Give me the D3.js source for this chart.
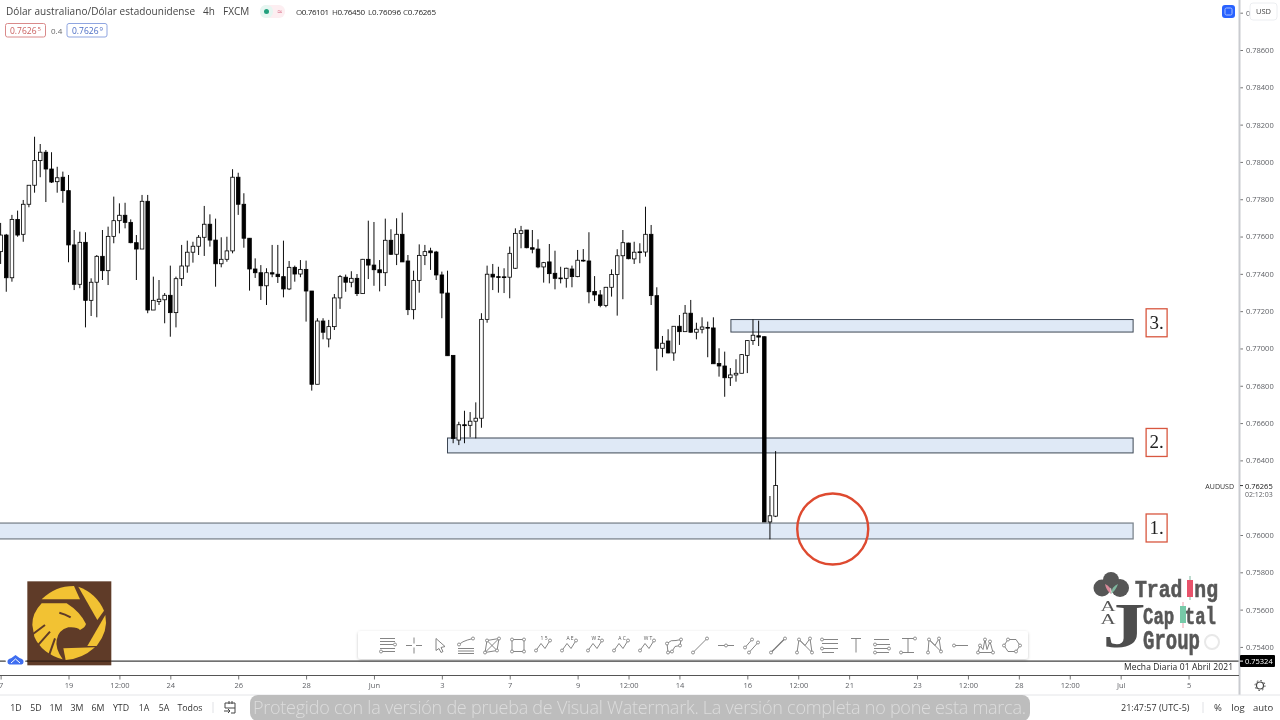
<!DOCTYPE html>
<html>
<head>
<meta charset="utf-8">
<script src="https://cdn.jsdelivr.net/npm/d3@7"></script>
<style>
  html, body { margin: 0; background: #fff; }
  /* the source is a soft video frame */
  svg { display: block; filter: blur(0.3px); }
  text { font-family: "Open Sans", sans-serif; }
</style>
</head>
<body>
<svg width="1280" height="720"></svg>
<script>
const opens = [
  0.77519,0.77608,0.77379,0.77692,0.77612,0.77773,0.77875,0.78007,0.78052,0.77962,0.77894,0.77918,
  0.77846,0.77555,0.77344,0.77569,0.77258,0.77355,0.77494,0.77417,0.77601,0.77685,0.77714,0.77676,
  0.77567,0.77533,0.77789,0.77206,0.77251,0.77261,0.77285,0.77192,0.77374,0.77442,0.77516,0.77548,
  0.77596,0.77666,0.77581,0.77454,0.77478,0.77523,0.77918,0.77773,0.77591,0.77426,0.77406,0.77336,
  0.77406,0.77398,0.77385,0.77319,0.77435,0.77399,0.77424,0.77308,0.76808,0.77147,0.77051,0.77117,
  0.77271,0.77382,0.77355,0.77376,0.77294,0.77478,0.77447,0.77422,0.77406,0.77580,0.77505,0.77612,
  0.77469,0.77208,0.77365,0.77499,0.77523,0.77517,0.77394,0.77297,0.76963,0.76509,0.76591,0.76588,
  0.76610,0.76626,0.77156,0.77398,0.77385,0.77384,0.77382,0.77430,0.77617,0.77635,0.77540,0.77533,
  0.77437,0.77464,0.77403,0.77375,0.77376,0.77426,0.77385,0.77473,0.77469,0.77306,0.77287,0.77231,
  0.77328,0.77396,0.77497,0.77565,0.77480,0.77518,0.77517,0.77612,0.77283,0.77001,0.77040,0.76976,
  0.77119,0.77090,0.77189,0.77087,0.77103,0.77113,0.77110,0.76920,0.76906,0.76843,0.76858,0.76867,
  0.76963,0.77042,0.77068,0.77063,0.76070,0.76101
];
const closes = [
  0.77608,0.77379,0.77692,0.77608,0.77773,0.77875,0.78007,0.78052,0.77962,0.77892,0.77915,0.77846,
  0.77555,0.77344,0.77569,0.77258,0.77355,0.77494,0.77417,0.77601,0.77685,0.77714,0.77676,0.77567,
  0.77533,0.77789,0.77206,0.77258,0.77264,0.77285,0.77192,0.77374,0.77442,0.77516,0.77548,0.77596,
  0.77666,0.77581,0.77454,0.77478,0.77523,0.77918,0.77773,0.77591,0.77426,0.77406,0.77336,0.77406,
  0.77399,0.77385,0.77319,0.77435,0.77399,0.77424,0.77308,0.76808,0.77147,0.77087,0.77117,0.77271,
  0.77385,0.77355,0.77376,0.77294,0.77478,0.77447,0.77422,0.77406,0.77580,0.77505,0.77612,0.77464,
  0.77208,0.77365,0.77499,0.77519,0.77513,0.77394,0.77297,0.76961,0.76518,0.76591,0.76586,0.76610,
  0.76626,0.77156,0.77398,0.77383,0.77382,0.77381,0.77510,0.77617,0.77631,0.77540,0.77532,0.77437,
  0.77460,0.77401,0.77376,0.77378,0.77430,0.77385,0.77473,0.77470,0.77304,0.77287,0.77231,0.77328,
  0.77396,0.77497,0.77567,0.77481,0.77516,0.77515,0.77612,0.77283,0.77001,0.77028,0.76976,0.77119,
  0.77090,0.77189,0.77087,0.77103,0.77115,0.77111,0.76918,0.76906,0.76843,0.76858,0.76867,0.76967,
  0.77042,0.77071,0.77061,0.76070,0.76103,0.76265
];
const highs = [
  0.77673,0.77614,0.77716,0.77739,0.77796,0.77876,0.78135,0.78096,0.78064,0.78052,0.77974,0.77948,
  0.77930,0.77635,0.77626,0.77623,0.77376,0.77501,0.77635,0.77653,0.77814,0.77778,0.77781,0.77692,
  0.77608,0.77823,0.77823,0.77385,0.77367,0.77297,0.77444,0.77385,0.77555,0.77578,0.77572,0.77608,
  0.77764,0.77719,0.77696,0.77596,0.77599,0.77961,0.77942,0.77832,0.77592,0.77483,0.77447,0.77430,
  0.77555,0.77555,0.77578,0.77469,0.77444,0.77474,0.77471,0.77308,0.77162,0.77162,0.77153,0.77292,
  0.77394,0.77396,0.77414,0.77399,0.77480,0.77685,0.77678,0.77474,0.77696,0.77639,0.77698,0.77728,
  0.77501,0.77417,0.77558,0.77555,0.77540,0.77523,0.77412,0.77417,0.76963,0.76607,0.76666,0.76659,
  0.76711,0.77189,0.77444,0.77453,0.77438,0.77430,0.77546,0.77644,0.77657,0.77635,0.77635,0.77585,
  0.77464,0.77560,0.77524,0.77438,0.77433,0.77444,0.77528,0.77533,0.77623,0.77388,0.77313,0.77330,
  0.77424,0.77532,0.77635,0.77567,0.77572,0.77564,0.77760,0.77662,0.77328,0.77067,0.77103,0.77120,
  0.77179,0.77233,0.77260,0.77138,0.77167,0.77144,0.77167,0.77001,0.76983,0.76895,0.76942,0.76970,
  0.77045,0.77156,0.77149,0.77065,0.76209,0.76450
];
const lows = [
  0.77453,0.77304,0.77358,0.77599,0.77572,0.77757,0.77835,0.77918,0.77785,0.77887,0.77835,0.77781,
  0.77462,0.77313,0.77323,0.77113,0.77174,0.77167,0.77367,0.77340,0.77564,0.77617,0.77644,0.77564,
  0.77367,0.77533,0.77189,0.77206,0.77233,0.77135,0.77063,0.77113,0.77335,0.77406,0.77460,0.77501,
  0.77496,0.77546,0.77331,0.77435,0.77465,0.77510,0.77716,0.77540,0.77310,0.77378,0.77260,0.77233,
  0.77382,0.77351,0.77274,0.77313,0.77358,0.77382,0.77144,0.76774,0.76808,0.77049,0.77006,0.77099,
  0.77212,0.77304,0.77328,0.77281,0.77292,0.77372,0.77336,0.77306,0.77335,0.77501,0.77447,0.77464,
  0.77179,0.77156,0.77299,0.77447,0.77421,0.77367,0.77162,0.76961,0.76492,0.76482,0.76492,0.76524,
  0.76518,0.76575,0.77138,0.77313,0.77299,0.77297,0.77269,0.77426,0.77537,0.77537,0.77510,0.77430,
  0.77353,0.77349,0.77317,0.77349,0.77326,0.77328,0.77382,0.77465,0.77242,0.77254,0.77221,0.77221,
  0.77278,0.77176,0.77264,0.77478,0.77453,0.77457,0.77492,0.77233,0.76881,0.76953,0.76974,0.76934,
  0.77019,0.77088,0.77085,0.77049,0.77081,0.76953,0.76918,0.76849,0.76741,0.76799,0.76822,0.76867,
  0.76868,0.77019,0.77013,0.76070,0.75977,0.76096
];

// price axis
const priceTicks = [0.788,0.786,0.784,0.782,0.780,0.778,0.776,0.774,0.772,0.770,0.768,0.766,0.764,0.760,0.758,0.756,0.754];
const lastPrice = 0.76265;
const dailyWick = 0.75324;

// time axis, positions counted in 4h bars
const timeTickBars = [0,12,21,30,42,54,66,78,90,102,111,120,132,141,150,162,171,180,189,198,210];
const timeTickLabels = ["7","19","12:00","24","26","28","Jun","3","7","9","12:00","14","16","12:00","21","23","12:00","28","12:00","Jul","5"];

// zones marked on the chart
const zoneNames = ["1.","2.","3."];
const zoneTops = [0.76064,0.76520,0.77155];
const zoneBottoms = [0.75979,0.76440,0.77088];
const zoneStarts = [-5,79,129.1];
const zoneEnd = 200.2;

const rangeButtons = ["1D","5D","1M","3M","6M","YTD","1A","5A","Todos"];
const rangeButtonCenters = [16,36,56,77,98,121,144,164,190];

const axisGrey = "#5f6166";
const svg = d3.select("svg");

const x = d3.scaleLinear().domain([0, 137]).range([0.62, 775.6]);
const y = d3.scaleLinear().domain([0.76, 0.786]).range([535, 50]);

// zones go under the candles
const zones = svg.append("g").attr("class", "zones");
zoneNames.forEach((name, i) => {
  zones.append("rect")
    .attr("x", x(zoneStarts[i]))
    .attr("y", y(zoneTops[i]))
    .attr("width", x(zoneEnd) - x(zoneStarts[i]))
    .attr("height", y(zoneBottoms[i]) - y(zoneTops[i]))
    .attr("fill", "#dfe9f6")
    .attr("stroke", i == 0 ? "#7d868f" : "#3d4754")
    .attr("stroke-width", i == 0 ? 1.3 : 1);

  const boxY = (y(zoneTops[i]) + y(zoneBottoms[i])) / 2 - 17;
  zones.append("rect")
    .attr("x", x(zoneEnd) + 13)
    .attr("y", boxY)
    .attr("width", 21)
    .attr("height", 28)
    .attr("fill", "#fff")
    .attr("stroke", "#d8573f")
    .attr("stroke-width", 1.3);
  zones.append("text")
    .attr("x", x(zoneEnd) + 23.5)
    .attr("y", boxY + 20)
    .attr("text-anchor", "middle")
    .style("font-family", "'Liberation Serif', serif")
    .style("font-size", "19px")
    .attr("fill", "#222")
    .text(name);
});

// candles
const candles = svg.append("g").attr("class", "candles");
const bars = d3.range(opens.length);
candles.selectAll("line")
  .data(bars)
  .join("line")
  .attr("x1", d => x(d))
  .attr("x2", d => x(d))
  .attr("y1", d => y(highs[d]))
  .attr("y2", d => y(lows[d]))
  .attr("stroke", "#000")
  .attr("stroke-width", 0.95);
candles.selectAll("rect")
  .data(bars)
  .join("rect")
  .attr("x", d => x(d) - 1.8)
  .attr("width", 3.6)
  .attr("y", d => y(Math.max(opens[d], closes[d])))
  .attr("height", d => Math.max(0.8, Math.abs(y(opens[d]) - y(closes[d]))))
  .attr("fill", d => closes[d] >= opens[d] ? "#fff" : "#000")
  .attr("stroke", "#000")
  .attr("stroke-width", 0.8);

// red circle around zone 1
svg.append("circle")
  .attr("cx", x(147.1))
  .attr("cy", y(0.76032))
  .attr("r", 35.5)
  .attr("fill", "none")
  .attr("stroke", "#de4a30")
  .attr("stroke-width", 2.4);

// april daily wick line
svg.append("line")
  .attr("x1", 0).attr("x2", 1239)
  .attr("y1", y(dailyWick)).attr("y2", y(dailyWick))
  .attr("stroke", "#111").attr("stroke-width", 1);
svg.append("text")
  .attr("x", 1124).attr("y", 669.5)
  .attr("textLength", 109)
  .style("font-size", "8.5px")
  .attr("fill", "#222")
  .text("Mecha Diaria 01 Abril 2021");

// right price axis
const priceAxis = d3.axisRight(y)
  .tickValues(priceTicks)
  .tickSize(3)
  .tickPadding(3)
  .tickFormat(d3.format(".5f"));
const priceG = svg.append("g").attr("transform", "translate(1240,0)").call(priceAxis);
priceG.select(".domain").remove();
priceG.selectAll("line").attr("stroke", "#777");
priceG.selectAll("text")
  .attr("fill", axisGrey)
  .style("font-family", "'Open Sans', sans-serif")
  .style("font-size", "7.5px");

// pane separator
svg.append("rect").attr("x", 1238.5).attr("y", 0).attr("width", 2).attr("height", 695).attr("fill", "#c9cbd0");

// last price tag
svg.append("line").attr("x1", 1240).attr("x2", 1243).attr("y1", y(lastPrice)).attr("y2", y(lastPrice)).attr("stroke", "#333");
svg.append("text").attr("x", 1245).attr("y", y(lastPrice) + 3)
  .style("font-size", "7.5px").attr("fill", "#111").text(d3.format(".5f")(lastPrice));
svg.append("text").attr("x", 1245).attr("y", 497)
  .style("font-size", "7px").attr("fill", axisGrey).text("02:12:03");
svg.append("text").attr("x", 1234).attr("y", y(lastPrice) + 3)
  .attr("text-anchor", "end")
  .style("font-size", "7px").attr("fill", "#333").text("AUDUSD");

// black tag for the wick price
svg.append("rect").attr("x", 1240).attr("y", y(dailyWick) - 6).attr("width", 35).attr("height", 12).attr("rx", 1).attr("fill", "#000");
svg.append("line").attr("x1", 1240).attr("x2", 1243).attr("y1", y(dailyWick)).attr("y2", y(dailyWick)).attr("stroke", "#fff");
svg.append("text").attr("x", 1245).attr("y", y(dailyWick) + 3)
  .style("font-size", "7.5px").attr("fill", "#fff").text(d3.format(".5f")(dailyWick));

// currency button and blue square, top right
svg.append("rect").attr("x", 1250).attr("y", 3).attr("width", 27).attr("height", 17).attr("rx", 3).attr("fill", "#fff").attr("stroke", "#eceef1");
svg.append("text").attr("x", 1263.5).attr("y", 14).attr("text-anchor", "middle")
  .style("font-size", "7.5px").attr("fill", "#444").text("USD");
svg.append("rect").attr("x", 1222).attr("y", 5).attr("width", 13).attr("height", 13).attr("rx", 3).attr("fill", "#2962ff");
svg.append("rect").attr("x", 1225).attr("y", 8).attr("width", 7).attr("height", 7).attr("rx", 1.5).attr("fill", "none").attr("stroke", "#a9c0ff");

// time axis
const timeAxis = d3.axisBottom(x)
  .tickValues(timeTickBars)
  .tickSize(4)
  .tickPadding(3)
  .tickFormat((d, i) => timeTickLabels[i]);
const timeG = svg.append("g").attr("transform", "translate(0,675.5)").call(timeAxis);
timeG.select(".domain").remove();
timeG.selectAll("line").attr("stroke", "#777");
timeG.selectAll("text")
  .attr("fill", axisGrey)
  .style("font-family", "'Open Sans', sans-serif")
  .style("font-size", "7.5px");
svg.append("line").attr("x1", 0).attr("x2", 1239).attr("y1", 675.5).attr("y2", 675.5).attr("stroke", "#555");

// gear in the axis corner
svg.append("circle").attr("cx", 1260).attr("cy", 685.5).attr("r", 3.5).attr("fill", "none").attr("stroke", "#444").attr("stroke-width", 1.2);
svg.append("circle").attr("cx", 1260).attr("cy", 685.5).attr("r", 5).attr("fill", "none").attr("stroke", "#444").attr("stroke-width", 1).attr("stroke-dasharray", "1.6 2.3");

// header
const header = svg.append("g");
header.append("text").attr("x", 6).attr("y", 15).style("font-size", "10px").attr("fill", "#444").attr("textLength", 189)
  .text("Dólar australiano/Dólar estadounidense");
header.append("text").attr("x", 203).attr("y", 15).style("font-size", "10px").attr("fill", "#444").text("4h");
header.append("text").attr("x", 223).attr("y", 15).style("font-size", "10px").attr("fill", "#444").text("FXCM");
header.append("rect").attr("x", 260).attr("y", 5).attr("width", 25).attr("height", 13).attr("rx", 6).attr("fill", "#fdeef1");
header.append("rect").attr("x", 260).attr("y", 5).attr("width", 13).attr("height", 13).attr("rx", 6).attr("fill", "#e6f6f1");
header.append("circle").attr("cx", 266.5).attr("cy", 11.5).attr("r", 2.5).attr("fill", "#22a07d");
header.append("text").attr("x", 277).attr("y", 14.5).style("font-size", "9px").attr("fill", "#d9708a").text("≈");

const last = opens.length - 1;
const fmt = d3.format(".5f");
const ohlc = [["O", opens[last], 296], ["H", highs[last], 332], ["L", lows[last], 368], ["C", closes[last], 403]];
ohlc.forEach(d => {
  const t = header.append("text").attr("x", d[2]).attr("y", 15).attr("textLength", 33).style("font-size", "8px").attr("fill", "#444");
  t.append("tspan").text(d[0]);
  t.append("tspan").attr("fill", "#222").text(fmt(d[1]));
});

header.append("rect").attr("x", 5.5).attr("y", 23.5).attr("width", 40).attr("height", 13.5).attr("rx", 2).attr("fill", "#fff").attr("stroke", "#d98a8a");
header.append("text").attr("x", 10).attr("y", 33.5).style("font-size", "8.5px").attr("fill", "#c9605f").text("0.7626");
header.append("text").attr("x", 37.5).attr("y", 31).style("font-size", "6px").attr("fill", "#c9605f").text("5");
header.append("text").attr("x", 51).attr("y", 33.5).style("font-size", "8px").attr("fill", "#666").text("0.4");
header.append("rect").attr("x", 67).attr("y", 23.5).attr("width", 40).attr("height", 13.5).attr("rx", 2).attr("fill", "#fff").attr("stroke", "#8fa5e0");
header.append("text").attr("x", 72).attr("y", 33.5).style("font-size", "8.5px").attr("fill", "#4a6cc4").text("0.7626");
header.append("text").attr("x", 99.5).attr("y", 31).style("font-size", "6px").attr("fill", "#4a6cc4").text("9");

// bottom bar
svg.append("line").attr("x1", 0).attr("x2", 1280).attr("y1", 695).attr("y2", 695).attr("stroke", "#e4e5e8");
rangeButtons.forEach((label, i) => {
  svg.append("text").attr("x", rangeButtonCenters[i]).attr("y", 710.5)
    .attr("text-anchor", "middle")
    .style("font-size", "8.8px").attr("fill", "#333").text(label);
});
svg.append("line").attr("x1", 213).attr("x2", 213).attr("y1", 702).attr("y2", 713).attr("stroke", "#e0e1e5");
svg.append("path")
  .attr("d", "M225 703h10v10h-4M225 703v5h10M229 701v3M232 701v3M224 711h6m-2 -2l2 2l-2 2")
  .attr("fill", "none").attr("stroke", "#444");

svg.append("rect").attr("x", 250).attr("y", 695).attr("width", 780).attr("height", 26).attr("rx", 8).attr("fill", "#bdbdbd");
svg.append("text").attr("x", 253).attr("y", 714)
  .attr("textLength", 773)
  .style("font-family", "'Open Sans', sans-serif")
  .style("font-size", "18px")
  .style("font-weight", 300)
  .attr("fill", "#dcdcdc")
  .text("Protegido con la versión de prueba de Visual Watermark. La versión completa no pone esta marca.");

svg.append("text").attr("x", 1121).attr("y", 710.5).style("font-size", "9px").attr("fill", "#333").text("21:47:57 (UTC-5)");
svg.append("line").attr("x1", 1203).attr("x2", 1203).attr("y1", 702).attr("y2", 713).attr("stroke", "#e0e1e5");
svg.append("text").attr("x", 1218).attr("y", 710.5).attr("text-anchor", "middle").style("font-size", "9.5px").attr("fill", "#333").text("%");
svg.append("text").attr("x", 1238).attr("y", 710.5).attr("text-anchor", "middle").style("font-size", "9.5px").attr("fill", "#333").text("log");
svg.append("text").attr("x", 1263).attr("y", 710.5).attr("text-anchor", "middle").style("font-size", "9.5px").attr("fill", "#333").text("auto");

// eagle badge, sketched at three times size
const eagle = svg.append("g").attr("transform", "translate(0,570) scale(0.3333)");
eagle.append("rect").attr("x", 82).attr("y", 34).attr("width", 252).attr("height", 252).attr("fill", "#5f3b28");
const eaglePieces = [
  "M125 88Q165 48 222 48L240 88Z",
  "M235 50Q290 70 312 122L292 150Z",
  "M316 135Q326 182 290 228L262 228Z",
  "M190 235L285 232Q245 268 197 270Z",
  "M97 165Q96 130 125 100L200 100Q240 125 258 162Q256 172 240 180Q232 170 205 172Q175 180 170 210Q165 235 188 268Q125 250 103 200Z"
];
eagle.selectAll("path.piece").data(eaglePieces).join("path").attr("class", "piece")
  .attr("d", d => d).attr("fill", "#f2c233");
const eagleCuts = ["M178 128Q195 132 212 142", "M95 195L135 165", "M108 232L150 185", "M145 262L165 205"];
eagle.selectAll("path.cut").data(eagleCuts).join("path").attr("class", "cut")
  .attr("d", d => d).attr("fill", "none").attr("stroke", "#5f3b28").attr("stroke-width", 6);
svg.append("line").attr("x1", 27).attr("x2", 111).attr("y1", y(dailyWick)).attr("y2", y(dailyWick)).attr("stroke", "#2a1c14");

// blue cloud alert
svg.append("circle").attr("cx", 15.5).attr("cy", 660).attr("r", 10).attr("fill", "#fff");
svg.append("path")
  .attr("d", "M9.5 664.5A3 3 0 0 1 9 659Q12 658 15.5 655Q19 658 22 659A3 3 0 0 1 21.5 664.5Z")
  .attr("fill", "#3f6ef0");
svg.append("path").attr("d", "M11 663L15.5 659L20 663").attr("fill", "none").attr("stroke", "#fff");

// trading capital logo
const logo = svg.append("g").attr("fill", "#565656");
logo.append("circle").attr("cx", 1102).attr("cy", 588).attr("r", 8.5);
logo.append("circle").attr("cx", 1111).attr("cy", 580).attr("r", 8);
logo.append("circle").attr("cx", 1120).attr("cy", 588).attr("r", 9);
logo.append("path").attr("d", "M1111 594Q1106 590 1105 584Q1111 586 1111 594Z").attr("fill", "#d98a9a");
logo.append("path").attr("d", "M1111 594Q1116 590 1118 584Q1112 586 1111 594Z").attr("fill", "#7fb79f");
const logoSerif = "'Liberation Serif', serif";
[611, 624].forEach(baseline => {
  logo.append("text").attr("transform", `translate(1108,${baseline}) scale(1.4,1)`)
    .attr("text-anchor", "middle").style("font-family", logoSerif).style("font-size", "15px")
    .attr("fill", "#555").text("A");
});
logo.append("text").attr("transform", "translate(1124,647) scale(1.35,1)")
  .attr("text-anchor", "middle").style("font-family", logoSerif).style("font-weight", 700)
  .style("font-size", "64px").attr("fill", "#4d4d4d").text("J");
const logoMono = "'Liberation Mono', monospace";
[["Trad ng", 1135, 597, 83, 24], ["Cap tal", 1143, 624, 73, 24], ["Group", 1143, 649, 57, 27]].forEach(d => {
  logo.append("text").attr("x", d[1]).attr("y", d[2]).attr("textLength", d[3]).attr("lengthAdjust", "spacingAndGlyphs")
    .style("font-family", logoMono).style("font-weight", 700).style("font-size", d[4] + "px")
    .attr("fill", "#575757").attr("stroke", "#575757").attr("stroke-width", 0.6).text(d[0]);
});
logo.append("line").attr("x1", 1190).attr("x2", 1190).attr("y1", 576).attr("y2", 600).attr("stroke", "#7fb79f");
logo.append("rect").attr("x", 1187).attr("y", 580).attr("width", 6).attr("height", 17).attr("fill", "#e8536b");
logo.append("line").attr("x1", 1183).attr("x2", 1183).attr("y1", 602).attr("y2", 628).attr("stroke", "#e8a0ac");
logo.append("rect").attr("x", 1180).attr("y", 606).attr("width", 6).attr("height", 17).attr("fill", "#77c9a8");
logo.append("circle").attr("cx", 1212).attr("cy", 642).attr("r", 7).attr("fill", "none").attr("stroke", "#e8e8e8").attr("stroke-width", 2);

// drawing toolbar
const toolbarShadow = svg.append("defs").append("filter").attr("id", "shadow")
  .attr("x", "-5%").attr("y", "-30%").attr("width", "110%").attr("height", "170%");
toolbarShadow.append("feDropShadow").attr("dx", 0).attr("dy", 1).attr("stdDeviation", 1.5).attr("flood-color", "#000").attr("flood-opacity", 0.22);
svg.append("rect").attr("x", 358).attr("y", 631).attr("width", 670).attr("height", 28).attr("rx", 3).attr("fill", "#fff").attr("filter", "url(#shadow)");

const zigzag = "M-8 5L-3 -2L1 3L6 -5";
const toolIcons = [
  { d: "M-8 -7H7M-8 -4H7M-8 -1H5M-8 3H7M-6 6H7", nodes: [[7,-1],[-7,6]] },
  { d: "M-8 0H-2M2 0H8M0 -8V-2M0 2V8", nodes: [] },
  { d: "M-4 -7L5 1L1 2L3 6L1 7L-1 3L-4 5Z", nodes: [] },
  { d: "M-8 3H8M-8 5.5H8M-8 8H8M-7 0Q-6 -4 7 -7", nodes: [[-7,-1],[7,-7]] },
  { d: "M-7 7L-5 -5L7 -7L5 5ZM-7 7L7 -7M-5 -5L5 5", nodes: [[-7,7],[7,-7],[-5,-5],[5,5]] },
  { d: "M-6 -6H6V6H-6Z", nodes: [[-6,-6],[6,-6],[-6,6],[6,6]] },
  { d: zigzag, nodes: [[-8,5],[6,-5]], letters: "1 5" },
  { d: zigzag, nodes: [[-8,5],[6,-5]], letters: "A E" },
  { d: zigzag, nodes: [[-8,5],[6,-5]], letters: "W Z" },
  { d: zigzag, nodes: [[-8,5],[6,-5]], letters: "A C" },
  { d: zigzag, nodes: [[-8,5],[6,-5]], letters: "W T" },
  { d: "M-7 -2Q-3 -6 2 -5L7 -6L6 0L1 1L-2 6L-6 7Z", nodes: [[-7,-2],[7,-6],[6,0],[-6,7],[-2,6]] },
  { d: "M-7 7L7 -7", nodes: [[-7,7],[7,-7]] },
  { d: "M-8 0H8", nodes: [[0,0]] },
  { d: "M-7 2L0 -6M-3 7L6 -3", nodes: [[-7,2],[0,-6],[-3,7],[6,-3]] },
  { d: "M-7 7L7 -7M-3 3L3 -3", nodes: [[-7,7],[7,-7]], heavy: true },
  { d: "M-7 7L-5 -6L1 0L6 -7L8 7M-5 -6L8 7", nodes: [[-7,7],[-5,-6],[6,-7],[8,7]] },
  { d: "M-8 -6H8M-8 -2H8M-8 3H8M-8 7H4", nodes: [[-8,-6],[-8,3]] },
  { d: "M-5 -7H5M0 -7V7", nodes: [] },
  { d: "M-8 -6H7M-8 -1H8M-8 3H8M-8 7H7", nodes: [[-7,-1],[7,3],[-7,7]] },
  { d: "M-6 -7H6M-6 7H6M0 -7V7", nodes: [[7,-7],[-7,7]] },
  { d: "M-6 7L-5 -6L1 0L5 -7L7 6M-5 -6L7 6", nodes: [[-6,7],[-5,-6],[5,-7],[7,6]] },
  { d: "M-5 0H8", nodes: [[-6,0]] },
  { d: "M-8 7L-6 0L-3 4L-1 -6L1 4L4 -4L7 7M-8 7H8", nodes: [[-6,0],[-1,-6],[4,-4],[-8,7],[7,7]] },
  { d: "M-8 0L-4 -6H4L8 0L4 6H-4Z", nodes: [[-8,0],[8,0],[-4,-6],[4,6]] }
];
toolIcons.forEach((icon, i) => {
  const g = svg.append("g").attr("transform", `translate(${388 + i * 26},645.5)`);
  g.append("path").attr("d", icon.d).attr("fill", "none").attr("stroke", "#777").attr("stroke-width", icon.heavy ? 1.2 : 0.9);
  icon.nodes.forEach(n => {
    g.append("circle").attr("cx", n[0]).attr("cy", n[1]).attr("r", 1.5).attr("fill", "#fff").attr("stroke", "#777").attr("stroke-width", 0.8);
  });
  if (icon.letters) {
    g.append("text").attr("x", 0).attr("y", -5.5).attr("text-anchor", "middle")
      .style("font-size", "5px").attr("fill", "#555").attr("xml:space", "preserve").text(icon.letters);
  }
});
</script>
</body>
</html>
